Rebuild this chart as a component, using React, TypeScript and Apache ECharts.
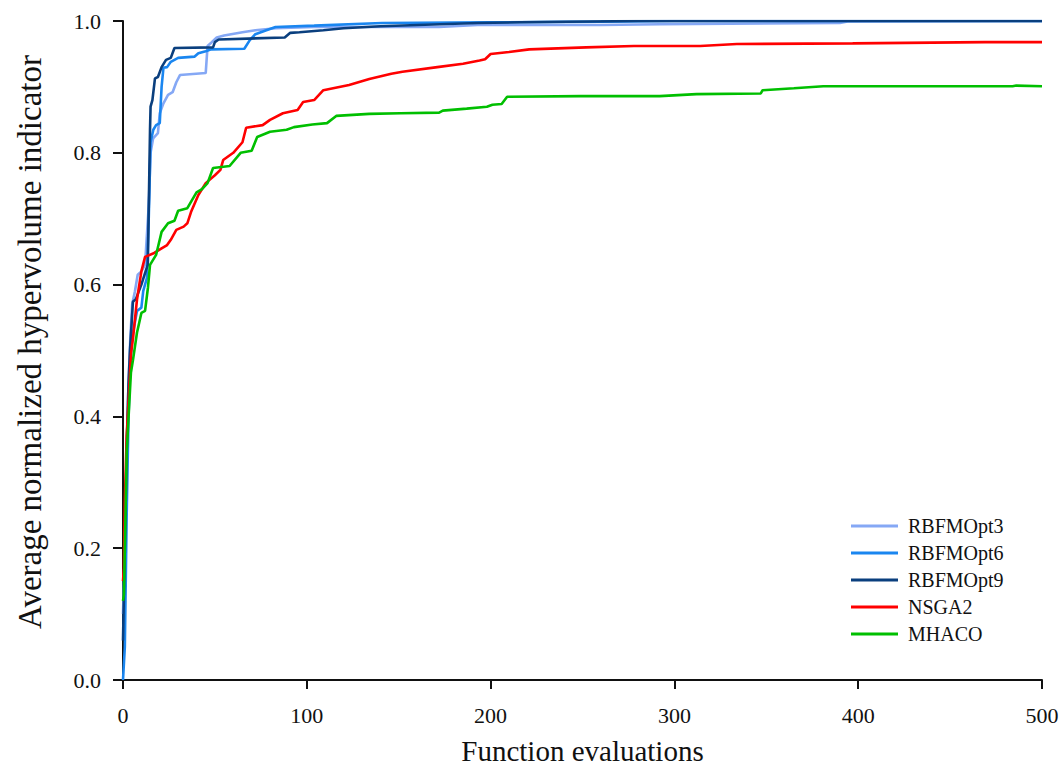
import React, { useEffect, useRef } from "react";
import * as echarts from "echarts";

const seriesNames = ["RBFMOpt3", "RBFMOpt6", "RBFMOpt9", "NSGA2", "MHACO"];
const seriesColors = ["#85a8f5", "#1a86f0", "#0a3f7e", "#ff0000", "#00bf00"];

const xTicks = [0, 100, 200, 300, 400, 500];
const yTicks = [0, 0.2, 0.4, 0.6, 0.8, 1.0];

const rbfmopt3: [number, number][] = [
  [0, 0.1], [1, 0.2], [2, 0.35], [3, 0.45], [4, 0.52], [5, 0.57], [6.5, 0.59], [8, 0.615],
  [10, 0.62], [12, 0.63], [14, 0.72], [15, 0.8], [16.4, 0.822], [19, 0.83], [20, 0.86],
  [22, 0.875], [24.5, 0.888], [27, 0.892], [29, 0.907], [31, 0.918], [45, 0.921], [46, 0.962],
  [48, 0.967], [51, 0.975], [55, 0.978], [65, 0.983], [72, 0.986], [83, 0.989], [104, 0.991],
  [172, 0.991], [193, 0.994], [260, 0.994], [292, 0.995], [390, 0.997], [395, 0.9995], [500, 1.0],
];

const rbfmopt6: [number, number][] = [
  [0, 0.0], [1, 0.05], [2, 0.25], [3, 0.4], [4, 0.48], [5, 0.52], [7.6, 0.56], [10, 0.565],
  [11, 0.59], [13, 0.61], [14, 0.7], [15, 0.816], [16.5, 0.835], [18, 0.842], [20, 0.845],
  [21, 0.9], [22, 0.929], [24, 0.93], [26, 0.938], [30, 0.944], [39, 0.946], [41, 0.951],
  [45, 0.954], [48, 0.957], [66, 0.958], [69, 0.971], [72, 0.98], [78, 0.986], [83, 0.991],
  [104, 0.993], [141, 0.997], [200, 0.998], [260, 0.999], [300, 1.0], [500, 1.0],
];

const rbfmopt9: [number, number][] = [
  [0, 0.06], [1, 0.2], [2, 0.35], [3, 0.45], [3.8, 0.5], [5.4, 0.574], [7, 0.578], [10, 0.6],
  [12.5, 0.622], [13.5, 0.63], [14.2, 0.75], [14.7, 0.835], [15, 0.87], [16, 0.88], [17.4, 0.913],
  [19, 0.915], [21, 0.93], [23.4, 0.941], [26, 0.944], [28, 0.959], [49, 0.96], [50, 0.968],
  [52, 0.972], [88, 0.975], [91, 0.982], [96, 0.983], [109, 0.986], [120, 0.989], [140, 0.992],
  [193, 0.997], [216, 0.998], [280, 1.0], [500, 1.0],
];

const nsga2: [number, number][] = [
  [0, 0.15], [0.5, 0.17], [1, 0.27], [2, 0.37], [4.4, 0.496], [5.5, 0.52], [7.6, 0.577],
  [10, 0.62], [12, 0.642], [17, 0.648], [21, 0.655], [24, 0.66], [26, 0.668], [29, 0.683],
  [33, 0.688], [35, 0.693], [37, 0.71], [41, 0.736], [45, 0.754], [50, 0.766], [53, 0.774],
  [54.5, 0.789], [60, 0.8], [65, 0.816], [67, 0.838], [76, 0.842], [80, 0.85], [87, 0.86],
  [95, 0.865], [98, 0.877], [104, 0.88], [109, 0.895], [123, 0.903], [134, 0.912], [146, 0.92],
  [152, 0.923], [171, 0.93], [185, 0.935], [194, 0.94], [197, 0.942], [200, 0.95], [210, 0.953],
  [221, 0.957], [252, 0.96], [278, 0.962], [314, 0.962], [334, 0.965], [397, 0.966],
  [469, 0.968], [500, 0.968],
];

const mhaco: [number, number][] = [
  [0, 0.12], [0.5, 0.13], [1, 0.2], [2, 0.345], [4.3, 0.466], [5.4, 0.485], [7.6, 0.527],
  [10, 0.557], [12, 0.56], [13.6, 0.596], [14.7, 0.63], [18, 0.645], [21, 0.68], [24.5, 0.693],
  [28, 0.697], [30, 0.712], [35, 0.716], [40, 0.74], [43, 0.745], [46, 0.754], [49, 0.777],
  [58, 0.78], [64, 0.8], [70, 0.803], [73, 0.824], [80, 0.832], [89, 0.835], [93, 0.839],
  [103, 0.843], [111, 0.845], [116, 0.856], [134, 0.859], [151, 0.86], [172, 0.861],
  [174, 0.864], [187, 0.867], [198, 0.87], [201, 0.873], [206, 0.874], [209, 0.885],
  [249, 0.886], [292, 0.886], [312, 0.889], [347, 0.89], [348, 0.895], [365, 0.898],
  [381, 0.901], [484, 0.901], [486, 0.902], [500, 0.901],
];

const seriesData = [rbfmopt3, rbfmopt6, rbfmopt9, nsga2, mhaco];

const xTitle = "Function evaluations";
const yTitle = "Average normalized hypervolume indicator";

const FONT = "'Liberation Serif', 'Times New Roman', serif";

export default function App() {
  const ref = useRef<HTMLDivElement>(null);
  useEffect(() => {
    if (!ref.current) return;
    const chart = echarts.init(ref.current, undefined, { renderer: "svg" });
    chart.setOption({
      animation: false,
      backgroundColor: "#ffffff",
      grid: {
        left: 123,
        right: 21,
        top: 21,
        bottom: 87,
        containLabel: false,
        outerBoundsMode: "none",
      },
      graphic: [
        {
          type: "text",
          x: 30,
          y: 342,
          rotation: Math.PI / 2,
          style: {
            text: yTitle,
            fontFamily: FONT,
            fontSize: 33,
            fill: "#111",
            align: "center",
            verticalAlign: "middle",
          },
        },
      ],
      legend: {
        orient: "vertical",
        left: 851,
        top: 516,
        padding: 0,
        icon: "rect",
        itemWidth: 47,
        itemHeight: 3,
        itemGap: 7,
        data: seriesNames,
        textStyle: { fontFamily: FONT, fontSize: 20, color: "#111", padding: [0, 0, 0, 5] },
      },
      xAxis: {
        type: "value",
        min: xTicks[0],
        max: xTicks[xTicks.length - 1],
        interval: 100,
        name: xTitle,
        nameLocation: "middle",
        nameGap: 56,
        nameTextStyle: { fontFamily: FONT, fontSize: 29, lineHeight: 30, color: "#111" },
        axisLine: { show: true, lineStyle: { color: "#111", width: 2 } },
        axisTick: { show: true, length: 9, lineStyle: { color: "#111", width: 2 } },
        axisLabel: { fontFamily: FONT, fontSize: 22, color: "#111", margin: 24 },
        splitLine: { show: false },
      },
      yAxis: {
        type: "value",
        min: yTicks[0],
        max: yTicks[yTicks.length - 1],
        interval: 0.2,
        axisLine: { show: true, lineStyle: { color: "#111", width: 2 } },
        axisTick: { show: true, length: 10, lineStyle: { color: "#111", width: 2 } },
        axisLabel: {
          fontFamily: FONT,
          fontSize: 22,
          color: "#111",
          margin: 22,
          formatter: (v: number) => v.toFixed(1),
        },
        splitLine: { show: false },
      },
      series: seriesNames.map((name, i) => ({
        name,
        type: "line",
        data: seriesData[i],
        showSymbol: false,
        symbol: "none",
        color: seriesColors[i],
        lineStyle: { color: seriesColors[i], width: 2.6 },
      })),
    });
    return () => chart.dispose();
  }, []);
  return (
    <div
      ref={ref}
      style={{ position: "fixed", left: 0, top: 0, width: 1063, height: 767, background: "#fff" }}
    />
  );
}
